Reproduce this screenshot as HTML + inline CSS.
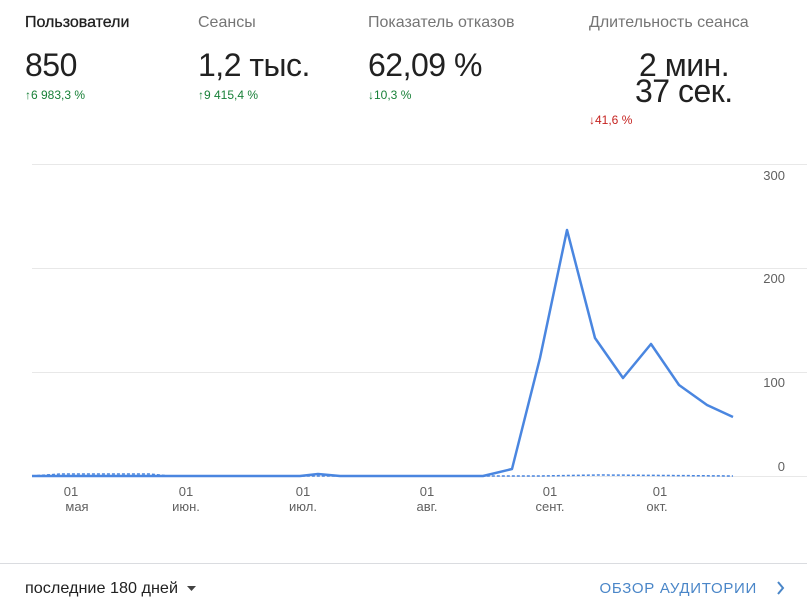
<!DOCTYPE html>
<html><head><meta charset="utf-8"><style>
body{margin:0;width:807px;height:612px;background:#fff;font-family:"Liberation Sans",sans-serif;position:relative;overflow:hidden}
.t{position:absolute;white-space:nowrap}
.h{font-size:16px;color:#757575;top:14px}
.v{font-size:32px;color:#212121;top:47px;letter-spacing:-0.5px}
.d{font-size:12px;top:88px;color:#188038}
</style></head><body>
<div class="t h" style="left:25px;color:#212121;font-size:16px;top:14px;-webkit-text-stroke:0.3px #212121">Пользователи</div>
<div class="t h" style="left:198px">Сеансы</div>
<div class="t h" style="left:368px">Показатель отказов</div>
<div class="t h" style="left:589px">Длительность сеанса</div>
<div class="t v" style="left:25px">850</div>
<div class="t v" style="left:198px">1,2 тыс.</div>
<div class="t v" style="left:368px">62,09 %</div>
<div class="t v" style="left:639px;top:47px">2 мин.</div>
<div class="t v" style="left:635px;top:73px">37 сек.</div>
<div class="t d" style="left:25px">↑6 983,3 %</div>
<div class="t d" style="left:198px">↑9 415,4 %</div>
<div class="t d" style="left:368px">↓10,3 %</div>
<div class="t d" style="left:589px;top:113px;color:#c5221f">↓41,6 %</div>
<svg style="position:absolute;left:0;top:0" width="807" height="612">
<g stroke="#e8e8e8" stroke-width="1">
<line x1="32" y1="164.5" x2="807" y2="164.5"/><line x1="32" y1="268.5" x2="807" y2="268.5"/><line x1="32" y1="372.5" x2="807" y2="372.5"/><line x1="32" y1="476.5" x2="807" y2="476.5"/>
<line x1="0" y1="563.5" x2="807" y2="563.5" stroke="#dadce0"/>
</g>
<g font-size="13" fill="#616161" text-anchor="end">
<text x="785" y="180">300</text><text x="785" y="283">200</text><text x="785" y="387">100</text><text x="785" y="471">0</text>
</g>
<polyline fill="none" stroke="#4a86e0" stroke-width="1.5" stroke-dasharray="3,2" points="32,476 60,474 150,474 170,476 483,476 540,476 600,475 733,476"/>
<polyline fill="none" stroke="#4a86e0" stroke-width="2.5" stroke-linejoin="round" points="32,476 200,476 300,476 318,474 340,476 483,476 512,469 540,358 567,230 595,338 623,378 651,344 679,385 707,405 733,417"/>
<g font-size="13" fill="#616161" text-anchor="middle">
<text x="71" y="496">01</text><text x="77" y="511">мая</text>
<text x="186" y="496">01</text><text x="186" y="511">июн.</text>
<text x="303" y="496">01</text><text x="303" y="511">июл.</text>
<text x="427" y="496">01</text><text x="427" y="511">авг.</text>
<text x="550" y="496">01</text><text x="550" y="511">сент.</text>
<text x="660" y="496">01</text><text x="657" y="511">окт.</text>
</g>
<text x="25" y="593" font-size="16" fill="#212121" textLength="153" lengthAdjust="spacingAndGlyphs">последние 180 дней</text>
<path d="M187 586 l9 0 l-4.5 5z" fill="#424242"/>
<text x="757" y="593" font-size="15" fill="#4a86c8" text-anchor="end" letter-spacing="0.7">ОБЗОР АУДИТОРИИ</text>
<path d="M778 582 l5 6 l-5 6" fill="none" stroke="#4a86c8" stroke-width="2"/>
</svg>
</body></html>
